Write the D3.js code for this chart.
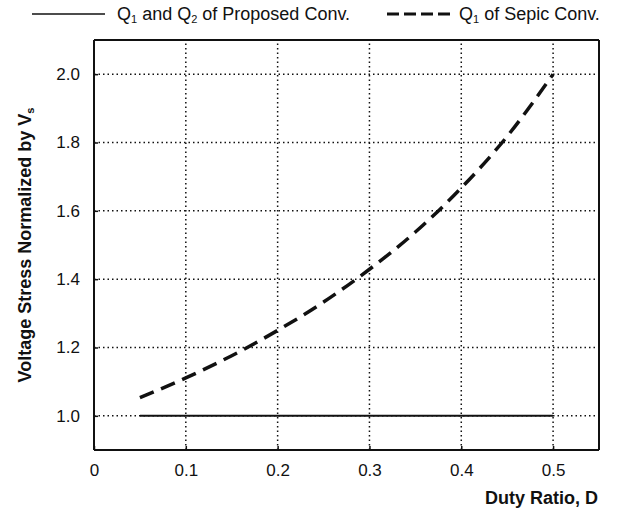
<!DOCTYPE html>
<html>
<head>
<meta charset="utf-8">
<script src="https://cdn.jsdelivr.net/npm/d3@7"></script>
<style>
  body { margin: 0; background: #fff; }
  svg text { font-family: "Liberation Sans", Arial, sans-serif; fill: #111; }
</style>
</head>
<body>
<div id="chart"></div>
<script>
// duty ratio samples and normalized voltage stress
const duty = [0.05, 0.1, 0.15, 0.2, 0.25, 0.3, 0.35, 0.4, 0.45, 0.5];
const sepicStress = [1.053, 1.111, 1.176, 1.25, 1.333, 1.429, 1.538, 1.667, 1.818, 2.0];
const proposedStress = [1.0, 1.0, 1.0, 1.0, 1.0, 1.0, 1.0, 1.0, 1.0, 1.0];
const xTicks = [0, 0.1, 0.2, 0.3, 0.4, 0.5];
const yTicks = [1.0, 1.2, 1.4, 1.6, 1.8, 2.0];

const width = 621, height = 510;
const margin = {left: 94, right: 22, top: 40, bottom: 60};

const svg = d3.select("#chart").append("svg")
    .attr("width", width)
    .attr("height", height);

const x = d3.scaleLinear().domain([0, 0.55]).range([margin.left, width - margin.right]);
const y = d3.scaleLinear().domain([0.9, 2.1]).range([height - margin.bottom, margin.top]);

// dotted grid
svg.append("g")
    .selectAll("line")
    .data(xTicks.filter(d => d > 0))
    .join("line")
    .attr("x1", d => x(d)).attr("x2", d => x(d))
    .attr("y1", y(0.9)).attr("y2", y(2.1))
    .attr("stroke", "#111").attr("stroke-width", 1.5)
    .attr("stroke-dasharray", "1.5,3");
svg.append("g")
    .selectAll("line")
    .data(yTicks)
    .join("line")
    .attr("x1", x(0)).attr("x2", x(0.55))
    .attr("y1", d => y(d)).attr("y2", d => y(d))
    .attr("stroke", "#111").attr("stroke-width", 1.5)
    .attr("stroke-dasharray", "1.5,3");

// axes (ticks point inward)
svg.append("g")
    .attr("transform", "translate(0," + y(0.9) + ")")
    .call(d3.axisBottom(x).tickValues(xTicks).tickSize(-4).tickPadding(14)
        .tickFormat(d => d === 0 ? "0" : d3.format(".1f")(d)))
    .call(g => g.select(".domain").remove())
    .call(g => g.selectAll("line").attr("stroke", "#111").attr("stroke-width", 1.5))
    .call(g => g.selectAll("text").attr("font-size", 17));
svg.append("g")
    .attr("transform", "translate(" + x(0) + ",0)")
    .call(d3.axisLeft(y).tickValues(yTicks).tickSize(-4).tickPadding(14)
        .tickFormat(d3.format(".1f")))
    .call(g => g.select(".domain").remove())
    .call(g => g.selectAll("line").attr("stroke", "#111").attr("stroke-width", 1.5))
    .call(g => g.selectAll("text").attr("font-size", 17));

// frame
const frame = svg.append("g").attr("stroke", "#111").attr("stroke-width", 2);
frame.append("line").attr("x1", x(0)).attr("x2", x(0)).attr("y1", y(0.9)).attr("y2", y(2.1));
frame.append("line").attr("x1", x(0.55)).attr("x2", x(0.55)).attr("y1", y(0.9)).attr("y2", y(2.1));
frame.append("line").attr("x1", x(0)).attr("x2", x(0.55)).attr("y1", y(0.9)).attr("y2", y(0.9));
frame.append("line").attr("x1", x(0)).attr("x2", x(0.55)).attr("y1", y(2.1)).attr("y2", y(2.1));

const line = d3.line().curve(d3.curveMonotoneX);

svg.append("path")
    .attr("d", line(duty.map((d, i) => [x(d), y(proposedStress[i])])))
    .attr("fill", "none").attr("stroke", "#111").attr("stroke-width", 2);

svg.append("path")
    .attr("d", line(duty.map((d, i) => [x(d), y(sepicStress[i])])))
    .attr("fill", "none").attr("stroke", "#111").attr("stroke-width", 3.5)
    .attr("stroke-dasharray", "15,8");

// legend
svg.append("line").attr("x1", 32).attr("x2", 105).attr("y1", 14).attr("y2", 14)
    .attr("stroke", "#111").attr("stroke-width", 1.5);
const t1 = svg.append("text").attr("x", 117).attr("y", 20).attr("font-size", 18);
t1.append("tspan").text("Q");
t1.append("tspan").attr("font-size", 11).attr("dy", 3).text("1");
t1.append("tspan").attr("dy", -3).text(" and Q");
t1.append("tspan").attr("font-size", 11).attr("dy", 3).text("2");
t1.append("tspan").attr("dy", -3).text(" of Proposed Conv.");

svg.append("line").attr("x1", 387).attr("x2", 455).attr("y1", 14).attr("y2", 14)
    .attr("stroke", "#111").attr("stroke-width", 3)
    .attr("stroke-dasharray", "12,5");
const t2 = svg.append("text").attr("x", 459).attr("y", 20).attr("font-size", 18);
t2.append("tspan").text("Q");
t2.append("tspan").attr("font-size", 11).attr("dy", 3).text("1");
t2.append("tspan").attr("dy", -3).text(" of Sepic Conv.");

// axis titles
svg.append("text")
    .attr("x", 598).attr("y", 504)
    .attr("text-anchor", "end").attr("font-size", 18).attr("font-weight", "bold")
    .text("Duty Ratio, D");

const yl = svg.append("text")
    .attr("transform", "translate(31," + ((y(0.9) + y(2.1)) / 2) + ") rotate(-90)")
    .attr("text-anchor", "middle").attr("font-size", 18).attr("font-weight", "bold");
yl.append("tspan").text("Voltage Stress Normalized by V");
yl.append("tspan").attr("font-size", 11).attr("dy", 3).text("s");
</script>
</body>
</html>
